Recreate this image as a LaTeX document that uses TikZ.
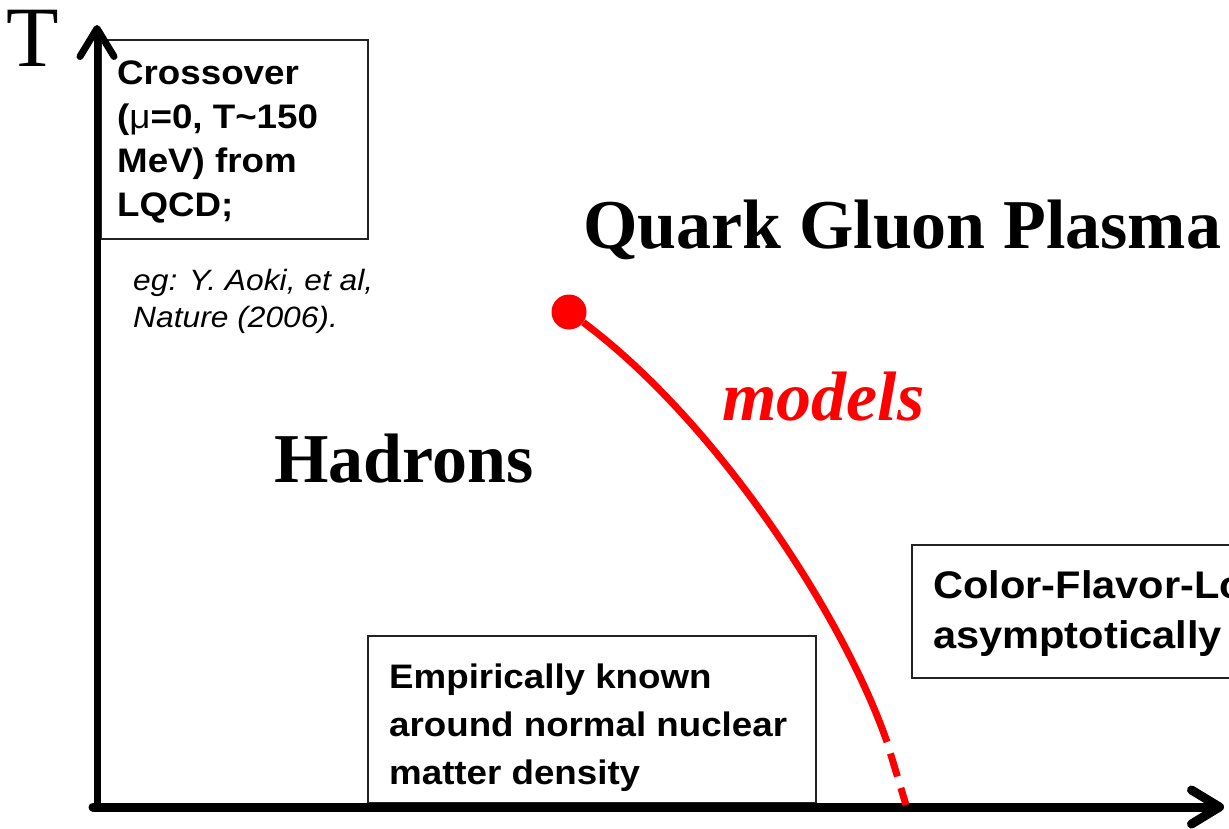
\documentclass[tikz,border=0pt]{standalone}
\usepackage{fontspec}
\setmainfont{Liberation Serif}
\setsansfont{Liberation Sans}
\newfontfamily\boxfont[FakeStretch=1.08]{Liberation Sans}
\usetikzlibrary{arrows.meta,positioning}
\definecolor{cepred}{RGB}{255,0,0}
\definecolor{framegray}{RGB}{35,35,35}

\begin{document}
\begin{tikzpicture}[x=1pt, y=-1pt,
  axisline/.style={line width=#1, line cap=round,
    -{Straight Barb[length=28pt,width=34pt,round]}},
  boxline/.style={draw=framegray, line width=1.6pt},
  boxtext/.style={anchor=base west, align=left, inner sep=0pt},
  phase/.style={font=\fontsize{70}{80}\selectfont\bfseries, anchor=base west, inner sep=0pt},
  redline/.style={cepred, line width=7pt, line join=round}
]
  \useasboundingbox (0,0) rectangle (1229,829);
  \clip (0,0) rectangle (1229,829);

  % Info boxes (text anchored at the baseline of its last line)
  \draw[boxline] (101,40) rectangle (368,239);
  \node[boxtext, font=\boxfont\bfseries\fontsize{34}{44}\selectfont] (crossbox) at (117,217)
    {Crossover\\ ({\mdseries μ}=0, T\textasciitilde 150\\ MeV) from\\ LQCD;};
  \node[boxtext, font=\boxfont\itshape\fontsize{29.4}{37}\selectfont] (egref) at (133,327)
    {eg: Y. Aoki, et al,\\ Nature (2006).};

  \draw[boxline] (368,636) rectangle (816,803);
  \node[boxtext, font=\boxfont\bfseries\fontsize{34}{48}\selectfont] (empbox) at (389,784)
    {Empirically known\\ around normal nuclear\\ matter density};

  \draw[boxline] (912,545) rectangle (1260,678);
  \node[boxtext, font=\boxfont\bfseries\fontsize{38.5}{50}\selectfont] (cflbox) at (933,648)
    {Color-Flavor-Locking\\ asymptotically};

  % Axes
  \coordinate (origin) at (97,807);
  \coordinate (tend) at (97,25);
  \coordinate (muend) at (1224,807);
  \draw[axisline=9pt] (93,807) -- (muend);
  \draw[axisline=7pt] (origin) -- (tend);
  \node[font=\fontsize{86}{90}\selectfont, anchor=base west, inner sep=0pt] (tlabel) at (6,67) {T};

  % Phases
  \node[phase] (qgp) at (583,248) {Quark Gluon Plasma};
  \node[phase] (hadrons) at (274,482) {Hadrons};
  \node[phase, font=\fontsize{70}{80}\selectfont\bfseries\itshape, text=cepred] (models) at (722,420) {models};

  % Transition line
  \node[circle, fill=cepred, minimum size=35pt, inner sep=0pt] (cep) at (569,312) {};
  \coordinate (solidend) at (887,742);
  \coordinate (lineend) at (906,805);
  \draw[redline] (cep.-36) .. controls (719,424) and (844,618) .. (solidend);
  \draw[redline, dash pattern=on 24pt off 12pt, dash phase=24pt] (solidend) -- (lineend);

\end{tikzpicture}
\end{document}
